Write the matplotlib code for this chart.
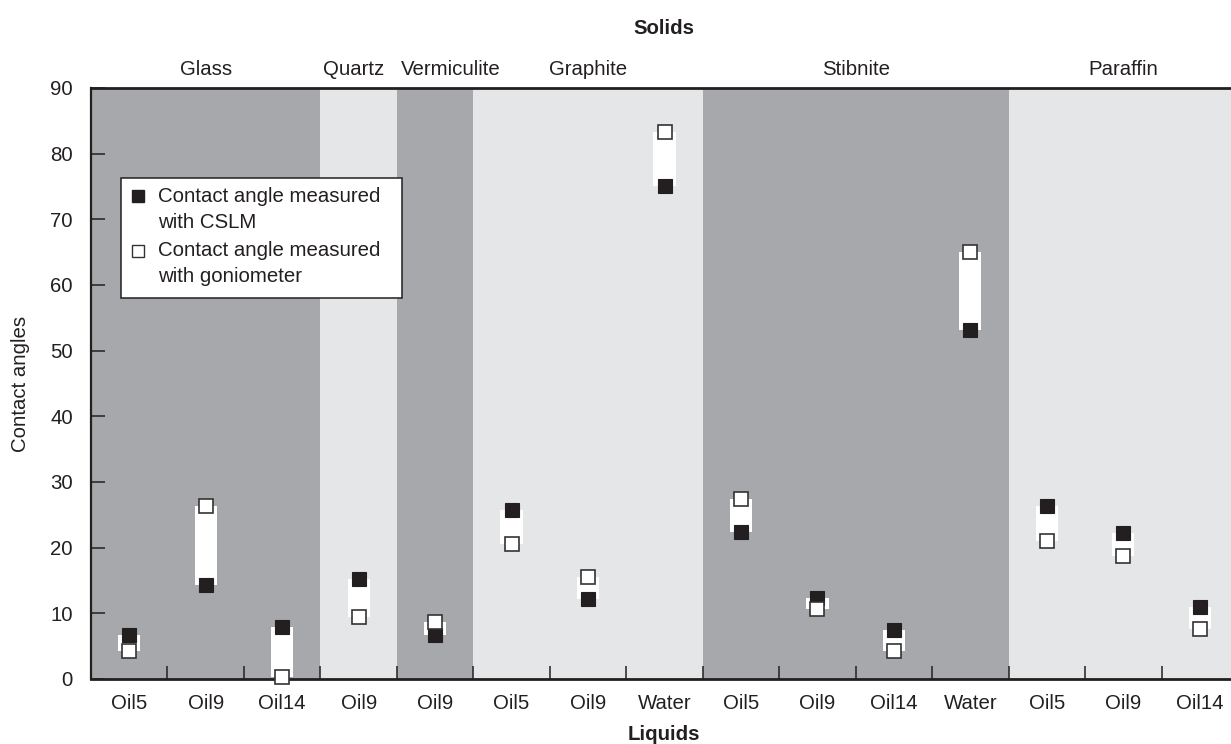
import numpy as np
import matplotlib.pyplot as plt
from matplotlib.patches import Rectangle

plt.rcParams['font.family'] = ['Liberation Sans', 'DejaVu Sans']

# data
solids = ['Glass', 'Quartz', 'Vermiculite', 'Graphite', 'Stibnite', 'Paraffin']
solid_counts = [3, 1, 1, 3, 4, 3]
liquids = ['Oil5', 'Oil9', 'Oil14', 'Oil9', 'Oil9', 'Oil5', 'Oil9', 'Water',
           'Oil5', 'Oil9', 'Oil14', 'Water', 'Oil5', 'Oil9', 'Oil14']
cslm = [6.7, 14.3, 7.9, 15.2, 6.7, 25.7, 12.2, 75.0,
        22.4, 12.3, 7.5, 53.2, 26.4, 22.2, 11.0]
gonio = [4.3, 26.3, 0.3, 9.4, 8.7, 20.5, 15.5, 83.3,
         27.4, 10.6, 4.3, 65.1, 21.0, 18.8, 7.6]

dark = '#a7a8ab'
light = '#e5e6e8'
ink = '#231f20'
fs = 14.7
# small nudges so the narrow group labels don't collide
label_shift = {'Quartz': -0.07, 'Vermiculite': 0.21}

W, H = 1231, 744
fig = plt.figure(figsize=(W/100, H/100), dpi=100)
ax = fig.add_axes([91/W, 1-679/H, 1147/W, 591/H])

x = np.arange(len(liquids))
ax.set_xlim(-0.5, len(liquids)-0.5)
ax.set_ylim(0, 90)

# shaded solid groups + labels
start = 0
for i, (name, n) in enumerate(zip(solids, solid_counts)):
    ax.axvspan(start-0.5, start+n-0.5, color=dark if i % 2 == 0 else light,
               lw=0, zorder=0)
    ax.text(start+(n-1)/2+label_shift.get(name, 0), 1.032, name,
            transform=ax.get_xaxis_transform(),
            ha='center', va='center', fontsize=fs, color=ink)
    start += n

lo = np.minimum(cslm, gonio)
hi = np.maximum(cslm, gonio)
ax.bar(x, hi-lo, bottom=lo, width=0.29, color='white', lw=0, zorder=2)
ax.plot(x, cslm, 's', ms=9.5, mfc=ink, mec=ink, mew=0.8, zorder=3, clip_on=False)
ax.plot(x, gonio, 's', ms=9.5, mfc='white', mec='#333333', mew=1.2, zorder=4,
        clip_on=False)

# axes styling
for s in ['left', 'top', 'bottom']:
    ax.spines[s].set_color(ink)
ax.spines['left'].set_linewidth(1.6)
ax.spines['top'].set_linewidth(2)
ax.spines['bottom'].set_linewidth(2)
ax.spines['right'].set_visible(False)

ax.set_yticks(range(0, 91, 10))
ax.tick_params(axis='y', direction='in', length=10, width=1.1, color=ink,
               labelsize=fs, pad=13, labelcolor=ink)
ax.set_xticks(np.arange(0.5, len(liquids)-1, 1))
ax.set_xticklabels([])
ax.tick_params(axis='x', which='major', direction='in', length=9.5, width=1.1,
               color=ink)
ax.set_xticks(x, minor=True)
ax.set_xticklabels(liquids, minor=True)
ax.tick_params(axis='x', which='minor', length=0, labelsize=fs, pad=11,
               labelcolor=ink)

ax.set_ylabel('Contact angles', fontsize=fs, color=ink)
ax.yaxis.set_label_coords(-61/1147, 0.5)
fig.text(664/W, 1-28/H, 'Solids', ha='center', va='center', fontsize=fs,
         fontweight='bold', color=ink)
fig.text(664/W, 1-734/H, 'Liquids', ha='center', va='center', fontsize=fs,
         fontweight='bold', color=ink)

# legend box drawn by hand (markers sit on the first line of each label)
ax.add_patch(Rectangle((30/1147, (679-298)/591), 281/1147, 120/591,
                       transform=ax.transAxes, facecolor='white',
                       edgecolor=ink, lw=1.1, zorder=5))
ax.plot([47/1147], [(679-196)/591], 's', ms=9, mfc=ink, mec=ink,
        transform=ax.transAxes, zorder=6)
ax.plot([47/1147], [(679-251)/591], 's', ms=9, mfc='white', mec='#333333',
        mew=1.0, transform=ax.transAxes, zorder=6)
leg_lines = ['Contact angle measured', 'with CSLM',
             'Contact angle measured', 'with goniometer']
leg_y = [197, 223, 251, 276]
for t, yy in zip(leg_lines, leg_y):
    ax.text(67/1147, (679-yy)/591, t, transform=ax.transAxes, ha='left',
            va='center', fontsize=fs, color=ink, zorder=6)

fig.savefig('out.png', dpi=100)
